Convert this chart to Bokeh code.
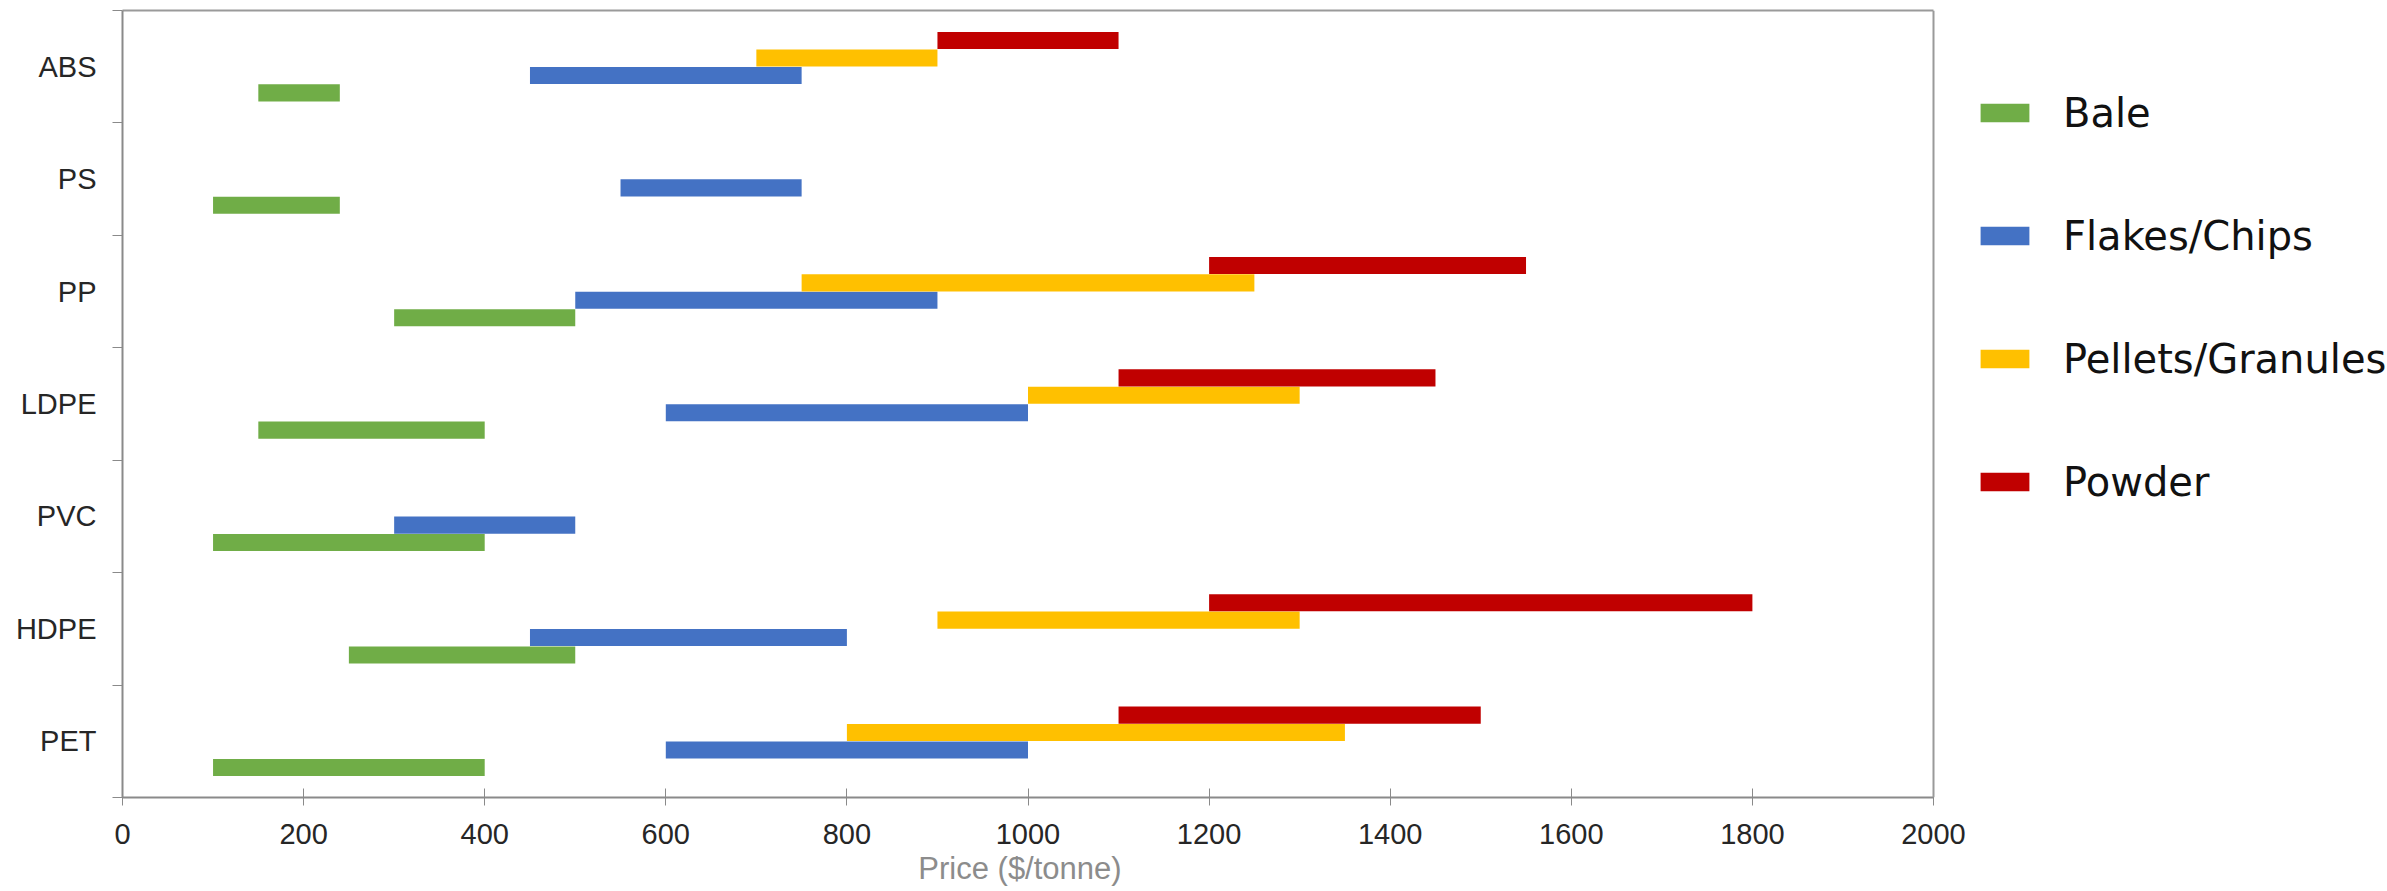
from bokeh.plotting import figure
from bokeh.models import (Range1d, FixedTicker, Legend, LegendItem, ColumnDataSource,
                          LinearAxis, Span, Title)
from bokeh.embed import file_html
from bokeh.resources import INLINE

# Recycled plastic price ranges ($/tonne) by polymer and form
plastics = ["ABS", "PS", "PP", "LDPE", "PVC", "HDPE", "PET"]
forms = ["Bale", "Flakes/Chips", "Pellets/Granules", "Powder"]
colors = ["#70AD47", "#4472C4", "#FFC000", "#C00000"]

bale_low = [150, 100, 300, 150, 100, 250, 100]
bale_high = [240, 240, 500, 400, 400, 500, 400]
flakes_low = [450, 550, 500, 600, 300, 450, 600]
flakes_high = [750, 750, 900, 1000, 500, 800, 1000]
pellets_low = [700, None, 750, 1000, None, 900, 800]
pellets_high = [900, None, 1250, 1300, None, 1300, 1350]
powder_low = [900, None, 1200, 1100, None, 1200, 1100]
powder_high = [1100, None, 1550, 1450, None, 1800, 1500]

x_min, x_max = 0, 2000
x_ticks = list(range(x_min, x_max + 1, 200))
x_title = "Price ($/tonne)"

series = [
    (bale_low, bale_high),
    (flakes_low, flakes_high),
    (pellets_low, pellets_high),
    (powder_low, powder_high),
]

n = len(plastics)
centers = [n - i - 0.5 for i in range(n)]   # first plastic at the top
pitch = 0.155
bar_h = 0.152

W, H = 2387, 891
BL, BT, BB = 122, 10, 94
plot_w = 1811                 # width of the 0-2000 price axis
frame_w = W - BL              # frame runs on to hold the legend at its right
frame_h = H - BT - BB
x_end = x_max * frame_w / plot_w

p = figure(width=W, height=H, output_backend="svg", toolbar_location=None,
           x_range=Range1d(x_min, x_end), y_range=Range1d(0, n))
p.min_border_left = BL
p.min_border_right = 0
p.min_border_top = BT
p.min_border_bottom = BB
p.background_fill_color = "white"
p.border_fill_color = "white"
p.outline_line_color = None
p.xgrid.visible = False
p.ygrid.visible = False

items = []
for k, ((lo, hi), name, col) in enumerate(zip(series, forms, colors)):
    ys, lefts, rights = [], [], []
    for i in range(n):
        if lo[i] is None:
            continue
        ys.append(centers[i] + (k - 1.5) * pitch)
        lefts.append(lo[i])
        rights.append(hi[i])
    src = ColumnDataSource(dict(y=ys, left=lefts, right=rights))
    r = p.hbar(y="y", left="left", right="right", height=bar_h, source=src,
               fill_color=col, line_color=None)
    items.append(LegendItem(label=name, renderers=[r]))

frame_color = "#9a9a9a"

# x axis
xa = p.xaxis[0]
xa.bounds = (x_min, x_max)
xa.ticker = FixedTicker(ticks=x_ticks)
xa.major_label_text_font = "Liberation Sans"
xa.major_label_text_font_size = "29px"
xa.major_label_text_color = "#262626"
xa.major_label_text_line_height = 1.0
xa.major_label_standoff = 18
xa.axis_line_color = "#8a8a8a"
xa.axis_line_width = 2
xa.major_tick_line_color = "#8a8a8a"
xa.major_tick_line_width = 1
xa.major_tick_in = 9
xa.major_tick_out = 8
xa.minor_tick_line_color = None

# x axis title, centred under the 0-2000 span
title_font_px = 31
title_w = 6.56 * title_font_px
xt = Title(text=x_title, align="left", offset=plot_w / 2 - title_w / 2 - 8,
           text_font="Liberation Sans", text_font_size=f"{title_font_px}px",
           text_font_style="normal", text_color="#8c8c8c", standoff=4,
           text_line_height=1.0)
p.add_layout(xt, "below")

# top edge of the price area
top = LinearAxis(bounds=(x_min, x_max), ticker=FixedTicker(ticks=[]),
                 axis_line_color=frame_color, axis_line_width=2,
                 major_tick_line_color=None, minor_tick_line_color=None,
                 major_tick_out=0, major_tick_in=0, minor_tick_out=0, minor_tick_in=0,
                 major_label_standoff=0, major_label_text_font_size="0px")
p.add_layout(top, "above")

# right edge of the price area
p.add_layout(Span(location=x_max, dimension="height", line_color=frame_color, line_width=2))

# y axis: labels at category centres, ticks at category boundaries
ya = p.yaxis[0]
ya.ticker = FixedTicker(ticks=centers, minor_ticks=list(range(0, n + 1)))
ya.major_label_overrides = {c: name for c, name in zip(centers, plastics)}
ya.major_label_text_font = "Liberation Sans"
ya.major_label_text_font_size = "29px"
ya.major_label_text_color = "#262626"
ya.major_tick_line_color = None
ya.major_tick_in = 0
ya.major_tick_out = 0
ya.major_label_standoff = 16
ya.minor_tick_line_color = "#8a8a8a"
ya.minor_tick_in = 0
ya.minor_tick_out = 10
ya.axis_line_color = "#8a8a8a"
ya.axis_line_width = 2

# legend to the right of the price area
item_h = 47
gap = 76
legend_h = len(forms) * item_h + (len(forms) - 1) * gap
legend_top = 79
legend = Legend(items=items, orientation="vertical",
                location=(plot_w + 41, frame_h - legend_top - legend_h))
legend.label_text_font = "DejaVu Sans"
legend.label_text_font_size = "40px"
legend.label_text_color = "#111111"
legend.glyph_width = 61
legend.glyph_height = 23
legend.label_standoff = 28
legend.label_height = item_h
legend.spacing = gap
legend.margin = 0
legend.padding = 0
legend.border_line_color = None
legend.background_fill_alpha = 0
p.add_layout(legend, "center")

open("out.html", "w").write(file_html(p, INLINE))
